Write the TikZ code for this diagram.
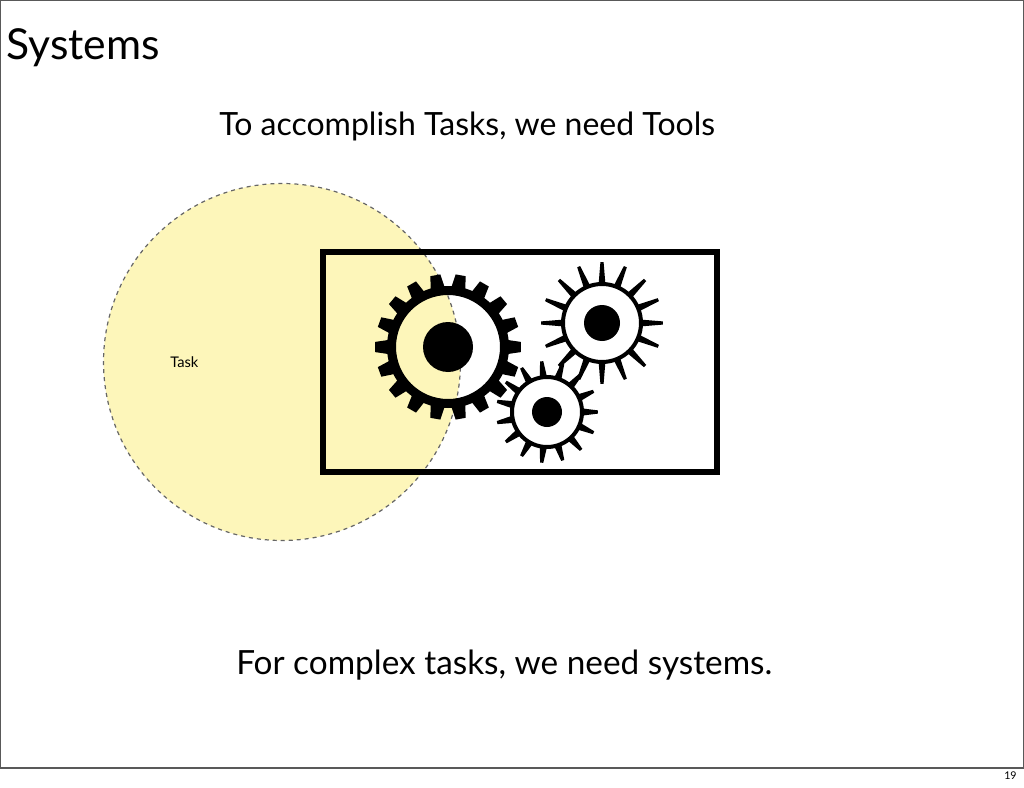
\documentclass[tikz,border=0pt]{standalone}
\usepackage{fontspec}
\setmainfont{Lato}
\newcommand{\mygear}[9]{% cx cy ringout ringin hub tip n basehalf tiphalf
  \foreach \k in {1,...,#7}{
    \pgfmathsetmacro{\a}{360/#7*\k}
    \fill[black] ({#1+(#3-2)*cos(\a-#8)},{#2+(#3-2)*sin(\a-#8)}) -- ({#1+#6*cos(\a-#9)},{#2+#6*sin(\a-#9)}) -- ({#1+#6*cos(\a+#9)},{#2+#6*sin(\a+#9)}) -- ({#1+(#3-2)*cos(\a+#8)},{#2+(#3-2)*sin(\a+#8)}) -- cycle;
  }
  \fill[black,even odd rule] (#1,#2) circle (#3) (#1,#2) circle (#4);
  \fill[black] (#1,#2) circle (#5);
}
\begin{document}
\begin{tikzpicture}[x=0.75pt,y=-0.75pt,
  txt/.style={inner sep=0pt,anchor=west}]
\useasboundingbox (0,0) rectangle (1024,788);
\fill[white] (0,0) rectangle (1024,788);
\draw[gray!70!black,line width=0.8pt] (0.5,0.5) -- (1023.5,0.5) -- (1023.5,768) (0.5,0.5) -- (0.5,768) (0,768) -- (1024,768);
\node[txt,font=\fontsize{32}{34}\selectfont] (title) at (6,48) {Systems};
\node[txt,font=\fontsize{24}{26}\selectfont] (sub) at (219,126) {To accomplish Tasks, we need Tools};
\node[txt,font=\fontsize{25}{27}\selectfont] (bottom) at (236,665) {For complex tasks, we need systems.};
\node[txt,font=\fontsize{8}{9}\selectfont] (num) at (1004,776) {19};
\node[circle,draw=gray!80!black,dashed,line width=0.9pt,fill={rgb,255:red,253;green,246;blue,186},minimum size=357*0.75pt,inner sep=0pt] (task) at (282,362) {};
\node[txt,font=\fontsize{11}{12}\selectfont] (tasklbl) at (170,362) {Task};
\draw[line width=3.8pt] (323,252) rectangle (717,472);
\mygear{448}{347}{61}{52}{25}{73}{18}{7}{4}
\mygear{602}{323}{41}{37}{18}{61}{16}{5}{1.5}
\mygear{547}{412}{37}{33}{15}{51}{15}{6}{1.8}
\end{tikzpicture}
\end{document}
